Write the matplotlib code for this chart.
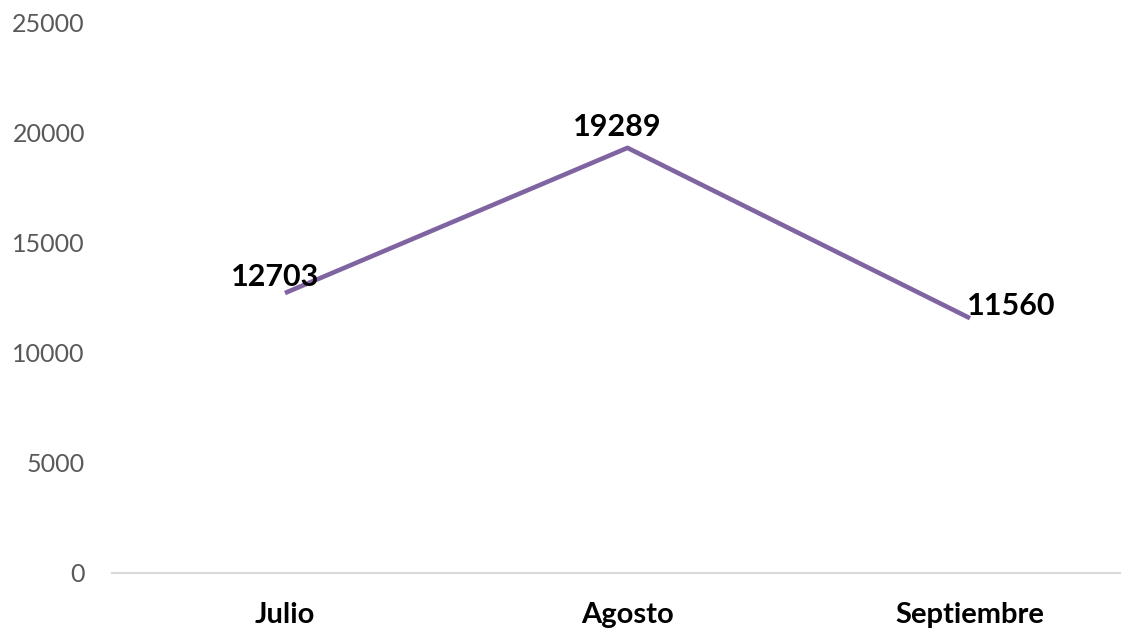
import matplotlib
matplotlib.use("Agg")
import matplotlib.pyplot as plt

months = ["Julio", "Agosto", "Septiembre"]
visits = [12703, 19289, 11560]
y_ticks = [0, 5000, 10000, 15000, 20000, 25000]

plt.rcParams["font.family"] = ["Lato", "DejaVu Sans"]

W, H = 1133, 632
fig = plt.figure(figsize=(W / 100, H / 100), dpi=100)
ax = fig.add_axes([112 / W, (H - 573) / H, (1120 - 112) / W, (573 - 22) / H])

x = range(len(months))
ax.plot(x, visits, color="#8064A2", lw=3.3, solid_capstyle="butt")

# data labels, offset like the source (points)
offsets = [(-7, 5), (-7, 8.5), (29.5, 2)]
for xi, v, off in zip(x, visits, offsets):
    ax.annotate(str(v), (xi, v), xytext=off, textcoords="offset points",
                ha="center", va="baseline", fontsize=22, fontweight="bold",
                color="black")

ax.set_xlim(-0.505, 2.438)
ax.set_ylim(0, 25000)
ax.set_yticks(y_ticks)
ax.set_yticklabels([str(t) for t in y_ticks])
ax.set_xticks(list(x))
ax.set_xticklabels(months, fontsize=21, fontweight="bold", color="black")
ax.tick_params(axis="y", labelsize=18, labelcolor="#595959", length=0, pad=19.5)
ax.tick_params(axis="x", length=0, pad=21)

for s in ["top", "right", "left"]:
    ax.spines[s].set_visible(False)
ax.spines["bottom"].set_color("#D9D9D9")
ax.spines["bottom"].set_linewidth(1.5)

fig.savefig("out.png", dpi=100)
